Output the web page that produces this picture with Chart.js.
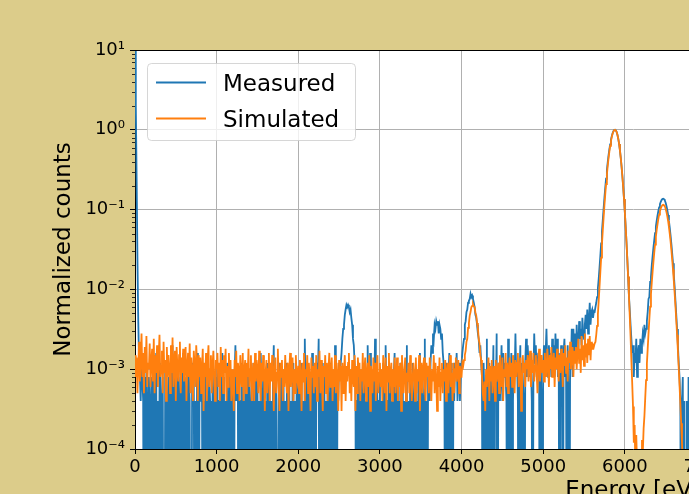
<!DOCTYPE html>
<html><head><meta charset="utf-8">
<script src="https://cdn.jsdelivr.net/npm/chart.js@4.4.0/dist/chart.umd.min.js"></script>
<style>
html,body{margin:0;padding:0;background:#dccc8a;overflow:hidden;width:689px;height:494px;}
canvas{display:block;}
</style></head><body>
<canvas id="c" width="1200" height="520"></canvas>
<script>
// Energy bin width (eV); bin i is centred at i * BIN_WIDTH (0 ... 7000 eV)
const BIN_WIDTH = 10;
// Measured spectrum: raw counts per bin, normalized by MEASURED_PEAK
const MEASURED_PEAK = 2500;
const MEASURED_COUNTS = [
  30000, 5000, 600, 60, 10, 3, 2, 1, 3, 2, 1, 0, 2, 0, 3, 1, 0, 2, 1, 0,
  2, 0, 3, 1, 0, 2, 4, 0, 1, 0, 2, 3, 0, 1, 2, 0, 0, 3, 1, 0,
  1, 2, 0, 3, 0, 1, 5, 0, 2, 1, 0, 2, 0, 3, 1, 0, 2, 0, 1, 4,
  0, 2, 1, 0, 3, 0, 2, 1, 0, 0, 3, 1, 2, 0, 1, 0, 4, 2, 0, 1,
  3, 1, 2, 0, 1, 0, 2, 0, 3, 1, 0, 2, 1, 0, 0, 3, 1, 0, 2, 1,
  0, 3, 0, 1, 2, 0, 1, 4, 0, 2, 0, 1, 0, 3, 1, 0, 2, 1, 0, 2,
  1, 0, 2, 5, 1, 2, 1, 0, 2, 0, 1, 3, 0, 1, 0, 2, 0, 1, 3, 0,
  2, 1, 0, 1, 0, 3, 0, 2, 1, 0, 2, 0, 1, 0, 4, 1, 0, 2, 1, 0,
  1, 0, 3, 0, 2, 1, 0, 1, 0, 2, 5, 0, 1, 2, 0, 0, 1, 3, 0, 2,
  0, 1, 2, 0, 1, 0, 3, 1, 0, 2, 0, 1, 0, 2, 3, 0, 1, 0, 2, 1,
  0, 2, 1, 0, 3, 0, 1, 0, 6, 1, 0, 3, 1, 0, 2, 0, 1, 4, 0, 1,
  2, 0, 1, 3, 2, 6, 0, 2, 0, 1, 3, 0, 2, 0, 1, 0, 2, 1, 0, 3,
  1, 0, 2, 1, 0, 5, 1, 0, 2, 1, 3, 2, 3, 4, 6, 8, 9, 12, 14, 16,
  15, 16, 15, 13, 14, 11, 9, 6, 5, 3, 2, 0, 1, 3, 0, 2, 1, 0, 2, 0,
  1, 3, 0, 1, 0, 5, 1, 0, 4, 1, 0, 2, 0, 1, 6, 0, 2, 1, 0, 1,
  2, 0, 1, 0, 3, 1, 0, 5, 1, 0, 1, 3, 0, 2, 0, 1, 0, 2, 4, 0,
  1, 2, 0, 1, 0, 3, 1, 0, 2, 0, 1, 0, 2, 5, 0, 1, 0, 2, 1, 0,
  3, 0, 1, 2, 0, 1, 0, 2, 0, 4, 1, 0, 2, 1, 0, 6, 0, 1, 0, 2,
  2, 1, 3, 5, 4, 7, 6, 9, 8, 10, 9, 10, 7, 9, 8, 6, 7, 4, 3, 2,
  0, 3, 1, 0, 2, 4, 0, 1, 3, 0, 2, 1, 3, 2, 4, 1, 2, 3, 1, 2,
  3, 4, 5, 6, 9, 10, 13, 14, 17, 18, 19, 22, 20, 21, 19, 17, 15, 12, 11, 9,
  7, 6, 4, 5, 3, 2, 0, 3, 1, 0, 2, 6, 0, 1, 3, 0, 2, 0, 1, 5,
  0, 2, 1, 7, 0, 2, 3, 1, 2, 5, 1, 4, 2, 3, 2, 1, 0, 6, 1, 0,
  2, 4, 0, 1, 3, 2, 7, 2, 3, 1, 0, 2, 5, 0, 3, 2, 1, 0, 3, 6,
  2, 5, 3, 2, 4, 3, 1, 0, 2, 7, 3, 5, 2, 3, 4, 2, 0, 3, 1, 0,
  3, 5, 2, 4, 8, 3, 2, 5, 3, 4, 2, 6, 3, 5, 2, 7, 3, 6, 2, 4,
  0, 3, 5, 2, 0, 4, 6, 2, 3, 0, 5, 1, 0, 4, 3, 8, 2, 8, 4, 7,
  3, 9, 5, 4, 10, 6, 8, 5, 11, 7, 6, 9, 12, 8, 14, 7, 10, 17, 9, 13,
  14, 11, 13, 13, 15, 17, 20, 26, 34, 47, 66, 94, 133, 186, 258, 350, 467, 609, 778, 970,
  1185, 1412, 1645, 1871, 2081, 2259, 2397, 2482, 2500, 2459, 2340, 2154, 1919, 1654, 1379, 1112, 868, 655, 479, 338,
  232, 153, 98, 61, 36, 21, 14, 9, 6, 4, 5, 2, 4, 3, 6, 2, 4, 5, 3, 6,
  4, 5, 7, 6, 9, 7, 8, 10, 13, 19, 20, 31, 36, 50, 65, 83, 103, 127, 153, 181,
  210, 239, 267, 292, 313, 329, 339, 342, 338, 325, 304, 278, 247, 214, 181, 149, 119, 93, 71, 53,
  38, 27, 18, 12, 8, 5, 3, 2, 1, 0, 1, 2, 0, 1, 0, 0, 1, 0, 2, 0,
  0, 1, 0, 0, 1, 0, 2, 0, 0, 1, 0, 0, 1, 0, 0, 0, 1, 0, 0, 0,
  0
];
// Simulated spectrum (normalized), in units of SIM_UNIT
const SIM_UNIT = 1e-4;
const SIMULATED = [
  15, 8, 14, 5, 11, 22, 7, 13, 28, 8, 16, 5, 19, 9, 26, 6, 12, 10, 21, 6,
  13, 18, 7, 24, 5, 15, 9, 20, 6, 14, 27, 8, 11, 17, 5, 22, 9, 13, 4, 19,
  8, 15, 11, 5, 20, 9, 25, 6, 13, 17, 4, 19, 10, 7, 15, 22, 5, 14, 9, 18,
  7, 13, 19, 4, 11, 16, 8, 21, 5, 14, 9, 4, 17, 11, 6, 20, 12, 4, 15, 8,
  14, 5, 10, 18, 3, 12, 8, 16, 4, 13, 20, 6, 10, 15, 5, 11, 17, 8, 4, 13,
  10, 16, 6, 12, 4, 19, 8, 13, 5, 15, 9, 18, 4, 11, 6, 16, 8, 13, 4, 10,
  7, 3, 13, 8, 17, 5, 12, 10, 4, 15, 8, 6, 16, 4, 10, 13, 5, 12, 8, 18,
  6, 10, 15, 4, 9, 12, 4, 16, 7, 13, 10, 5, 17, 8, 4, 12, 7, 15, 10, 3,
  9, 13, 5, 10, 16, 4, 12, 7, 15, 8, 3, 10, 14, 5, 9, 18, 6, 3, 12, 8,
  13, 4, 10, 6, 15, 8, 5, 12, 3, 10, 16, 6, 9, 14, 4, 10, 5, 15, 8, 7,
  11, 5, 13, 8, 3, 12, 7, 16, 4, 10, 8, 15, 5, 12, 7, 3, 14, 8, 11, 5,
  12, 6, 15, 4, 10, 8, 17, 5, 13, 7, 3, 11, 8, 15, 5, 12, 4, 10, 16, 6,
  9, 14, 4, 10, 6, 15, 5, 12, 8, 3, 13, 7, 11, 3, 12, 5, 9, 15, 4, 11,
  7, 12, 16, 5, 10, 4, 13, 8, 6, 15, 3, 11, 5, 14, 8, 12, 4, 10, 7, 16,
  5, 10, 14, 4, 9, 12, 6, 15, 3, 11, 8, 5, 14, 7, 12, 4, 10, 15, 5, 9,
  12, 6, 10, 4, 15, 8, 5, 14, 3, 11, 7, 16, 5, 9, 12, 4, 10, 6, 14, 5,
  9, 14, 4, 11, 6, 12, 3, 15, 8, 5, 10, 14, 4, 9, 7, 12, 5, 15, 10, 4,
  7, 12, 9, 4, 14, 5, 10, 7, 15, 3, 9, 12, 5, 10, 14, 6, 4, 12, 8, 11,
  5, 14, 8, 4, 10, 7, 15, 5, 12, 8, 3, 11, 6, 14, 4, 9, 12, 5, 10, 7,
  13, 4, 9, 12, 5, 10, 15, 6, 9, 4, 12, 5, 10, 14, 7, 9, 13, 5, 11, 8,
  8, 12, 11, 13, 15, 17, 22, 24, 33, 38, 47, 52, 60, 62, 65, 61, 60, 51, 47, 38,
  33, 24, 21, 15, 13, 8, 5, 4, 7, 3, 10, 6, 9, 14, 4, 11, 7, 13, 5, 9,
  11, 4, 13, 7, 9, 12, 5, 15, 8, 6, 14, 4, 10, 8, 16, 6, 12, 5, 10, 14,
  8, 12, 6, 15, 10, 5, 13, 8, 12, 16, 6, 10, 14, 3, 5, 15, 9, 12, 6, 13,
  10, 15, 7, 12, 17, 6, 13, 9, 16, 7, 11, 15, 9, 5, 13, 18, 7, 11, 15, 9,
  13, 7, 16, 10, 8, 18, 12, 6, 15, 10, 19, 8, 12, 16, 6, 14, 10, 18, 11, 7,
  15, 9, 18, 12, 6, 16, 11, 20, 9, 14, 7, 17, 12, 22, 10, 15, 19, 8, 17, 12,
  19, 10, 16, 24, 12, 18, 9, 26, 13, 20, 11, 28, 14, 21, 12, 24, 15, 26, 13, 22,
  18, 20, 19, 21, 22, 27, 35, 49, 72, 108, 165, 250, 375, 553, 798, 1127, 1554, 2088, 2739, 3504,
  4368, 5305, 6281, 7242, 8140, 8912, 9510, 9887, 10000, 9836, 9360, 8620, 7680, 6620, 5515, 4447, 3471, 2620, 1914, 1353,
  926, 612, 392, 243, 145, 84, 47, 26, 13, 6.8, 3.4, 1.2, 2.0, 0.5, 1.5, 0.6, 0.3, 0.8, 0.4, 1.0,
  0.5, 1.3, 0.9, 1.8, 2.6, 4.4, 7.3, 11.7, 18, 28, 42, 61, 87, 121, 165, 220, 287, 365, 454, 551,
  655, 761, 863, 957, 1037, 1098, 1137, 1150, 1135, 1091, 1024, 934, 830, 720, 608, 500, 401, 313, 238, 177,
  128, 90, 62, 41, 27, 17, 10.5, 6.3, 3.7, 2.1, 1.2, 0.6, 0.35, 0.2, 0.1, 0.1, 0.1, 0.1, 0.1, 0.1,
  0.1, 0.1, 0.1, 0.1, 0.1, 0.1, 0.1, 0.1, 0.1, 0.1, 0.1, 0.1, 0.1, 0.1, 0.1, 0.1, 0.1, 0.1, 0.1, 0.1,
  0.1
];
const SERIES_LABELS = ['Measured', 'Simulated'];
const X_TICKS = [0, 1000, 2000, 3000, 4000, 5000, 6000, 7000, 8000, 9000, 10000, 11000, 12000];
const Y_TICKS = [1e-4, 1e-3, 1e-2, 1e-1, 1, 10];
const Y_TICK_LABELS = ['10\u207B\u2074', '10\u207B\u00B3', '10\u207B\u00B2', '10\u207B\u00B9', '10\u2070', '10\u00B9'];
const Y_MINOR_MANTISSAS = [2, 3, 4, 5, 6, 7, 8, 9];
const Y_MINOR_DECADES = [1e-4, 1e-3, 1e-2, 1e-1, 1];
// empty bins cannot sit on a log axis: like matplotlib's clipping, they go far below the floor
const LOG_FLOOR = 1e-7;

const measuredPts = MEASURED_COUNTS.map((c, i) => ({x: i * BIN_WIDTH, y: c > 0 ? c / MEASURED_PEAK : LOG_FLOOR}));
const simulatedPts = SIMULATED.map((v, i) => ({x: i * BIN_WIDTH, y: v * SIM_UNIT}));

const BLUE = '#1f77b4', ORANGE = '#ff7f0e';
Chart.defaults.font.family = '"DejaVu Sans", sans-serif';
Chart.defaults.color = '#000';

const decor = {
  id: 'decor',
  beforeDraw(chart) {
    const {ctx, chartArea: a} = chart;
    ctx.save();
    ctx.fillStyle = '#fff';
    ctx.fillRect(a.left, a.top, a.right - a.left, a.bottom - a.top);
    ctx.restore();
  },
  afterDatasetsDraw(chart) {
    const {ctx, chartArea: a, scales: {y}} = chart;
    ctx.save();
    // top spine
    ctx.strokeStyle = '#000';
    ctx.lineWidth = 1.1;
    ctx.beginPath(); ctx.moveTo(a.left, a.top + 0.5); ctx.lineTo(a.right, a.top + 0.5); ctx.stroke();
    // minor ticks on log axis
    ctx.lineWidth = 0.8;
    for (const d of Y_MINOR_DECADES) {
      for (const m of Y_MINOR_MANTISSAS) {
        const py = Math.round(y.getPixelForValue(m * d)) + 0.5;
        ctx.beginPath(); ctx.moveTo(a.left - 3, py); ctx.lineTo(a.left, py); ctx.stroke();
      }
    }
    // legend
    const bx = 147.5, by = 63.5, bw = 208, bh = 77;
    ctx.beginPath();
    ctx.roundRect(bx, by, bw, bh, 4);
    ctx.fillStyle = 'rgba(255,255,255,0.8)';
    ctx.fill();
    ctx.strokeStyle = 'rgba(204,204,204,0.8)';
    ctx.lineWidth = 1;
    ctx.stroke();
    const rows = [{c: BLUE, ly: 82.5, ty: 91}, {c: ORANGE, ly: 118.5, ty: 126.5}];
    rows.forEach((r, i) => {
      ctx.strokeStyle = r.c; ctx.lineWidth = 2;
      ctx.beginPath(); ctx.moveTo(156, r.ly); ctx.lineTo(206, r.ly); ctx.stroke();
      ctx.fillStyle = '#000';
      ctx.font = '23px "DejaVu Sans"';
      ctx.textBaseline = 'alphabetic';
      ctx.textAlign = 'left';
      ctx.fillText(SERIES_LABELS[i], 223, r.ty);
    });
    ctx.restore();
  }
};

new Chart(document.getElementById('c'), {
  type: 'line',
  data: {
    datasets: [
      {label: SERIES_LABELS[0], data: measuredPts, borderColor: BLUE, borderWidth: 1.8, pointRadius: 0, tension: 0, clip: 0, order: 2},
      {label: SERIES_LABELS[1], data: simulatedPts, borderColor: ORANGE, borderWidth: 1.8, pointRadius: 0, tension: 0, clip: 0, order: 1}
    ]
  },
  options: {
    responsive: false,
    devicePixelRatio: 1,
    animation: false,
    events: [],
    layout: {padding: {left: 0, top: 50, right: 69, bottom: 0}},
    plugins: {legend: {display: false}, tooltip: {enabled: false}},
    scales: {
      x: {
        type: 'linear', min: 0, max: 12200,
        afterBuildTicks: s => { s.ticks = X_TICKS.map(v => ({value: v})); },
        afterFit: s => { s.height = 71; },
        grid: {color: '#b0b0b0', lineWidth: 1, tickColor: '#000', tickLength: 5, tickWidth: 1},
        border: {color: '#000', width: 1},
        ticks: {font: {size: 18}, color: '#000', padding: 3, maxRotation: 0, autoSkip: false, callback: v => String(v)},
        title: {display: true, text: 'Energy [eV]', font: {size: 23}, color: '#000', padding: {top: 0, bottom: 15}}
      },
      y: {
        type: 'logarithmic', min: 1e-4, max: 10,
        afterBuildTicks: s => { s.ticks = Y_TICKS.map(v => ({value: v})); },
        afterFit: s => { s.width = 135; },
        grid: {color: '#b0b0b0', lineWidth: 1, tickColor: '#000', tickLength: 5, tickWidth: 1},
        border: {color: '#000', width: 1},
        ticks: {font: {size: 18}, color: '#000', padding: 5, autoSkip: false, callback: (v, i) => Y_TICK_LABELS[i]},
        title: {display: true, text: 'Normalized counts', font: {size: 23}, color: '#000', padding: {top: 50, bottom: 0}}
      }
    }
  },
  plugins: [decor]
});
</script>
</body></html>
